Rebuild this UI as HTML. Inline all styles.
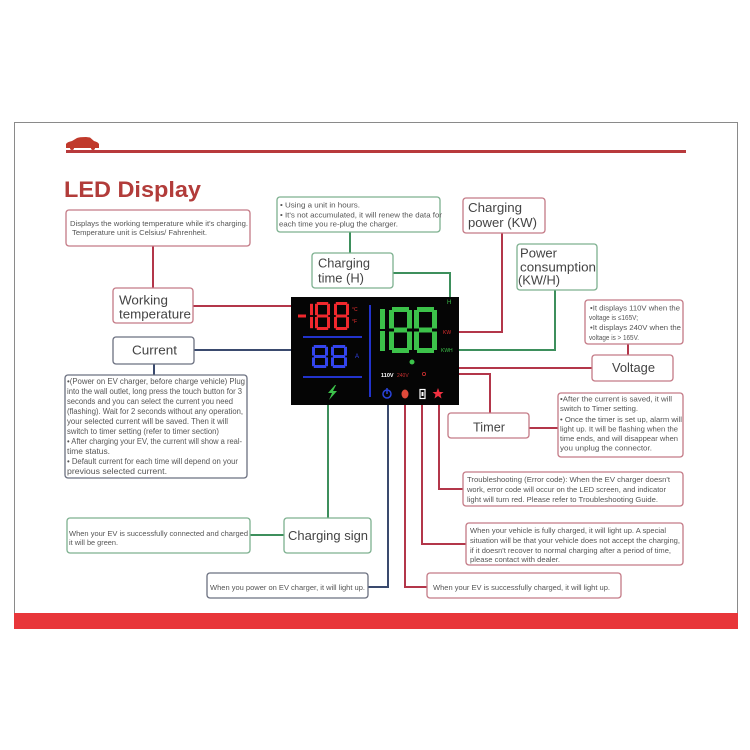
<!DOCTYPE html>
<html><head><meta charset="utf-8">
<style>
html,body{margin:0;padding:0;background:#fff;}
svg{display:block;}
text{font-family:"Liberation Sans",Arial,sans-serif;}
.s{font-size:7.5px;fill:#555;}
.c{font-size:8px;fill:#555;}
.L{font-size:12.5px;fill:#444;}
.rb{fill:#fff;stroke:#c47a86;stroke-width:1.3;}
.gb{fill:#fff;stroke:#7db08f;stroke-width:1.3;}
.kb{fill:#fff;stroke:#6b7080;stroke-width:1.3;}
.rl{fill:none;stroke:#b3364a;stroke-width:2;}
.gl{fill:none;stroke:#3d8f5c;stroke-width:2;}
.bl{fill:none;stroke:#3a4a6e;stroke-width:2;}
</style></head><body>
<svg width="750" height="750" viewBox="0 0 750 750" xmlns="http://www.w3.org/2000/svg">
<rect width="750" height="750" fill="#fff"/>
<rect x="14.5" y="122.5" width="723" height="506" fill="none" stroke="#8a8a8a" stroke-width="1"/>
<rect x="14" y="613" width="724" height="16" fill="#e8363a"/>
<rect x="66" y="150" width="620" height="3" fill="#b83a3c"/>
<!-- car -->
<path d="M66,148 L66,144 Q67,142 72,141 L77,138 Q79,137 86,137 L90,137.5 L94,141 Q98,142 99,144 L99,148 Z" fill="#c0392b"/>
<circle cx="72" cy="148" r="2" fill="#c0392b"/><circle cx="93" cy="148" r="2" fill="#c0392b"/>
<text x="64" y="197" font-size="22" font-weight="bold" fill="#b23c3a" textLength="137" lengthAdjust="spacingAndGlyphs">LED Display</text>

<!-- connectors -->
<path class="rl" d="M153,246 V288"/>
<path class="rl" d="M193,306 H292"/>
<path class="bl" d="M194,350 H292"/>
<path class="bl" d="M154,364 V375"/>
<path class="gl" d="M350,232 V253"/>
<path class="gl" d="M393,273 H450 V300"/>
<path class="rl" d="M502,233 V332 H457"/>
<path class="gl" d="M555,290 V350 H457"/>
<path class="rl" d="M628,344 V355"/>
<path class="rl" d="M390,371 V368 H592"/>
<path class="rl" d="M427,374 H490 V413"/>
<path class="rl" d="M529,428 H558"/>
<path class="rl" d="M439,398 V489 H463"/>
<path class="rl" d="M422,398 V544 H466"/>
<path class="rl" d="M405,398 V587 H427"/>
<path class="bl" d="M388,398 V587 H368"/>
<path class="gl" d="M328,398 V518"/>
<path class="gl" d="M250,535 H284"/>

<!-- display -->
<rect x="291" y="297" width="168" height="108" fill="#050505"/>
<g fill="#f0282d">
<rect x="298" y="314.5" width="8" height="3"/>
<rect x="310" y="303.8" width="3" height="11.3"/><rect x="310" y="316.9" width="3" height="11.3"/>
<g>
<rect x="316.8" y="302" width="11.4" height="3"/><rect x="315" y="303.8" width="3" height="11.3"/><rect x="327" y="303.8" width="3" height="11.3"/><rect x="316.8" y="314.5" width="11.4" height="3"/><rect x="315" y="316.9" width="3" height="11.3"/><rect x="327" y="316.9" width="3" height="11.3"/><rect x="316.8" y="327" width="11.4" height="3"/>
</g>
<g transform="translate(19,0)">
<rect x="316.8" y="302" width="11.4" height="3"/><rect x="315" y="303.8" width="3" height="11.3"/><rect x="327" y="303.8" width="3" height="11.3"/><rect x="316.8" y="314.5" width="11.4" height="3"/><rect x="315" y="316.9" width="3" height="11.3"/><rect x="327" y="316.9" width="3" height="11.3"/><rect x="316.8" y="327" width="11.4" height="3"/>
</g>
</g>
<text x="352" y="311" font-size="5" fill="#f03030">°C</text>
<text x="352" y="323" font-size="5" fill="#f03030">°F</text>
<path d="M303,337 H362 M303,377 H362 M370,305 V397" stroke="#2233cc" stroke-width="2" fill="none"/>
<g fill="#3344ee">
<g>
<rect x="313.8" y="345" width="12.4" height="3"/><rect x="312" y="346.8" width="3" height="8.8"/><rect x="325" y="346.8" width="3" height="8.8"/><rect x="313.8" y="355" width="12.4" height="3"/><rect x="312" y="357.4" width="3" height="8.8"/><rect x="325" y="357.4" width="3" height="8.8"/><rect x="313.8" y="365" width="12.4" height="3"/>
</g>
<g transform="translate(19,0)">
<rect x="313.8" y="345" width="12.4" height="3"/><rect x="312" y="346.8" width="3" height="8.8"/><rect x="325" y="346.8" width="3" height="8.8"/><rect x="313.8" y="355" width="12.4" height="3"/><rect x="312" y="357.4" width="3" height="8.8"/><rect x="325" y="357.4" width="3" height="8.8"/><rect x="313.8" y="365" width="12.4" height="3"/>
</g>
</g>
<text x="355" y="358" font-size="6" fill="#3344ee">A</text>
<g fill="#3cc24a">
<rect x="380" y="309" width="5" height="20"/><rect x="380" y="331" width="5" height="20"/>
<g>
<rect x="392" y="307" width="17" height="5"/><rect x="389" y="310" width="5" height="18.5"/><rect x="407" y="310" width="5" height="18.5"/><rect x="394" y="327.5" width="13" height="5"/><rect x="389" y="331.5" width="5" height="18.5"/><rect x="407" y="331.5" width="5" height="18.5"/><rect x="392" y="348" width="17" height="5"/>
</g>
<g transform="translate(25,0)">
<rect x="392" y="307" width="17" height="5"/><rect x="389" y="310" width="5" height="18.5"/><rect x="407" y="310" width="5" height="18.5"/><rect x="394" y="327.5" width="13" height="5"/><rect x="389" y="331.5" width="5" height="18.5"/><rect x="407" y="331.5" width="5" height="18.5"/><rect x="392" y="348" width="17" height="5"/>
</g>
<circle cx="412" cy="362" r="2.5"/>
</g>
<text x="447" y="304" font-size="6" fill="#3cc24a">H</text>
<text x="443" y="334" font-size="5" fill="#e03030">KW</text>
<text x="441" y="352" font-size="5" fill="#3cc24a">KWH</text>
<text x="381" y="377" font-size="5.5" font-weight="bold" fill="#fff">110V</text>
<text x="397" y="377" font-size="5" fill="#c83030">240V</text>
<circle cx="424" cy="374" r="1.6" fill="none" stroke="#d03030" stroke-width="0.8"/>
<polygon points="335,385 328,393 332,393 329,400 337,391 333,391 336,385" fill="#3cc24a"/>
<circle cx="387" cy="394" r="4" fill="none" stroke="#2a44dd" stroke-width="1.5"/>
<path d="M387,388 V394" stroke="#2a44dd" stroke-width="1.5"/>
<ellipse cx="405" cy="394" rx="3.5" ry="4.5" fill="#e04a3a"/>
<rect x="420" y="389.5" width="5" height="9" fill="none" stroke="#fff" stroke-width="1.2"/>
<rect x="421.5" y="392" width="2" height="4" fill="#fff"/>
<polygon points="438,388 439.5,392 443.5,392 440.5,394.5 441.5,398.5 438,396 434.5,398.5 435.5,394.5 432.5,392 436.5,392" fill="#f03040"/>

<!-- boxes -->
<rect class="rb" x="66" y="210" width="184" height="36" rx="3"/>
<text class="s" x="70" y="226" textLength="178" lengthAdjust="spacingAndGlyphs">Displays the working temperature while it's charging.</text>
<text class="s" x="72" y="235" textLength="135" lengthAdjust="spacingAndGlyphs">Temperature unit is Celsius/ Fahrenheit.</text>

<rect class="rb" x="113" y="288" width="80" height="35" rx="3"/>
<text class="L" x="119" y="304.5" textLength="49" lengthAdjust="spacingAndGlyphs">Working</text>
<text class="L" x="119" y="318.5" textLength="72" lengthAdjust="spacingAndGlyphs">temperature</text>

<rect class="kb" x="113" y="337" width="81" height="27" rx="3"/>
<text class="L" x="132" y="354.5" textLength="45" lengthAdjust="spacingAndGlyphs">Current</text>

<rect class="kb" x="65" y="375" width="182" height="103" rx="3"/>
<text class="c" x="67" y="384" textLength="178" lengthAdjust="spacingAndGlyphs">•(Power on EV charger, before charge vehicle) Plug</text>
<text class="c" x="67" y="394" textLength="175" lengthAdjust="spacingAndGlyphs">into the wall outlet, long press the touch button for 3</text>
<text class="c" x="67" y="404" textLength="166" lengthAdjust="spacingAndGlyphs">seconds and you can select the current you need</text>
<text class="c" x="67" y="414" textLength="176" lengthAdjust="spacingAndGlyphs">(flashing). Wait for 2 seconds without any operation,</text>
<text class="c" x="67" y="424" textLength="161" lengthAdjust="spacingAndGlyphs">your selected current will be saved. Then it will</text>
<text class="c" x="67" y="434" textLength="152" lengthAdjust="spacingAndGlyphs">switch to timer setting (refer to timer section)</text>
<text class="c" x="67" y="444" textLength="175" lengthAdjust="spacingAndGlyphs">• After charging your EV, the current will show a real-</text>
<text class="c" x="67" y="454" textLength="43" lengthAdjust="spacingAndGlyphs">time status.</text>
<text class="c" x="67" y="464" textLength="171" lengthAdjust="spacingAndGlyphs">• Default current for each time will depend on your</text>
<text class="c" x="67" y="474" textLength="100" lengthAdjust="spacingAndGlyphs">previous selected current.</text>

<rect class="gb" x="277" y="197" width="163" height="35" rx="3"/>
<text class="s" x="280" y="207.5" textLength="80" lengthAdjust="spacingAndGlyphs">• Using a unit in hours.</text>
<text class="s" x="280" y="217.5" textLength="162" lengthAdjust="spacingAndGlyphs">• It's not accumulated, it will renew the data for</text>
<text class="s" x="279" y="226.5" textLength="119" lengthAdjust="spacingAndGlyphs">each time you re-plug the charger.</text>

<rect class="gb" x="312" y="253" width="81" height="35" rx="3"/>
<text class="L" x="318" y="267.5" textLength="52" lengthAdjust="spacingAndGlyphs">Charging</text>
<text class="L" x="318" y="282.5" textLength="46" lengthAdjust="spacingAndGlyphs">time (H)</text>

<rect class="rb" x="463" y="198" width="82" height="35" rx="3"/>
<text class="L" x="468" y="212" textLength="54" lengthAdjust="spacingAndGlyphs">Charging</text>
<text class="L" x="468" y="227" textLength="69" lengthAdjust="spacingAndGlyphs">power (KW)</text>

<rect class="gb" x="517" y="244" width="80" height="46" rx="3"/>
<text class="L" x="520" y="257.5" textLength="37" lengthAdjust="spacingAndGlyphs">Power</text>
<text class="L" x="520" y="271.5" textLength="76" lengthAdjust="spacingAndGlyphs">consumption</text>
<text class="L" x="518" y="284.5" textLength="42" lengthAdjust="spacingAndGlyphs">(KW/H)</text>

<rect class="rb" x="585" y="300" width="98" height="44" rx="3"/>
<text class="s" x="590" y="310.5" font-size="7" textLength="90" lengthAdjust="spacingAndGlyphs">•It displays 110V when the</text>
<text class="s" x="589" y="320" font-size="7" textLength="49" lengthAdjust="spacingAndGlyphs">voltage is ≤165V;</text>
<text class="s" x="590" y="330" font-size="7" textLength="91" lengthAdjust="spacingAndGlyphs">•It displays 240V when the</text>
<text class="s" x="589" y="340" font-size="7" textLength="50" lengthAdjust="spacingAndGlyphs">voltage is &gt; 165V.</text>

<rect class="rb" x="592" y="355" width="81" height="26" rx="3"/>
<text class="L" x="612" y="372" font-size="13" textLength="43" lengthAdjust="spacingAndGlyphs">Voltage</text>

<rect class="rb" x="448" y="413" width="81" height="25" rx="3"/>
<text class="L" x="473" y="431.5" font-size="13" textLength="32" lengthAdjust="spacingAndGlyphs">Timer</text>

<rect class="rb" x="558" y="393" width="125" height="64" rx="3"/>
<text class="s" x="560" y="401.5" textLength="112" lengthAdjust="spacingAndGlyphs">•After the current is saved, it will</text>
<text class="s" x="560" y="411" textLength="78" lengthAdjust="spacingAndGlyphs">switch to Timer setting.</text>
<text class="s" x="560" y="422" textLength="122" lengthAdjust="spacingAndGlyphs">• Once the timer is set up, alarm will</text>
<text class="s" x="560" y="431.5" textLength="118" lengthAdjust="spacingAndGlyphs">light up. It will be flashing when the</text>
<text class="s" x="560" y="441" textLength="118" lengthAdjust="spacingAndGlyphs">time ends, and will disappear when</text>
<text class="s" x="560" y="450.5" textLength="92" lengthAdjust="spacingAndGlyphs">you unplug the connector.</text>

<rect class="rb" x="463" y="472" width="220" height="34" rx="3"/>
<text class="s" x="467" y="482" textLength="203" lengthAdjust="spacingAndGlyphs">Troubleshooting (Error code): When the EV charger doesn't</text>
<text class="s" x="467" y="492" textLength="199" lengthAdjust="spacingAndGlyphs">work, error code will occur on the LED screen, and indicator</text>
<text class="s" x="467" y="502" textLength="191" lengthAdjust="spacingAndGlyphs">light will turn red. Please refer to Troubleshooting Guide.</text>

<rect class="rb" x="466" y="523" width="217" height="42" rx="3"/>
<text class="s" x="470" y="533" textLength="196" lengthAdjust="spacingAndGlyphs">When your vehicle is fully charged, it will light up. A special</text>
<text class="s" x="470" y="543" textLength="210" lengthAdjust="spacingAndGlyphs">situation will be that your vehicle does not accept the charging,</text>
<text class="s" x="470" y="553" textLength="201" lengthAdjust="spacingAndGlyphs">if it doesn't recover to normal charging after a period of time,</text>
<text class="s" x="470" y="562" textLength="90" lengthAdjust="spacingAndGlyphs">please contact with dealer.</text>

<rect class="rb" x="427" y="573" width="194" height="25" rx="3"/>
<text class="s" x="433" y="590" textLength="177" lengthAdjust="spacingAndGlyphs">When your EV is successfully charged, it will light up.</text>

<rect class="kb" x="207" y="573" width="161" height="25" rx="3"/>
<text class="s" x="210" y="590" textLength="155" lengthAdjust="spacingAndGlyphs">When you power on EV charger, it will light up.</text>

<rect class="gb" x="67" y="518" width="183" height="35" rx="3"/>
<text class="s" x="69" y="536" textLength="179" lengthAdjust="spacingAndGlyphs">When your EV is successfully connected and charged</text>
<text class="s" x="69" y="545" textLength="49" lengthAdjust="spacingAndGlyphs">it will be green.</text>

<rect class="gb" x="284" y="518" width="87" height="35" rx="3"/>
<text class="L" x="288" y="540" font-size="14" textLength="80" lengthAdjust="spacingAndGlyphs">Charging sign</text>
</svg>
</body></html>
